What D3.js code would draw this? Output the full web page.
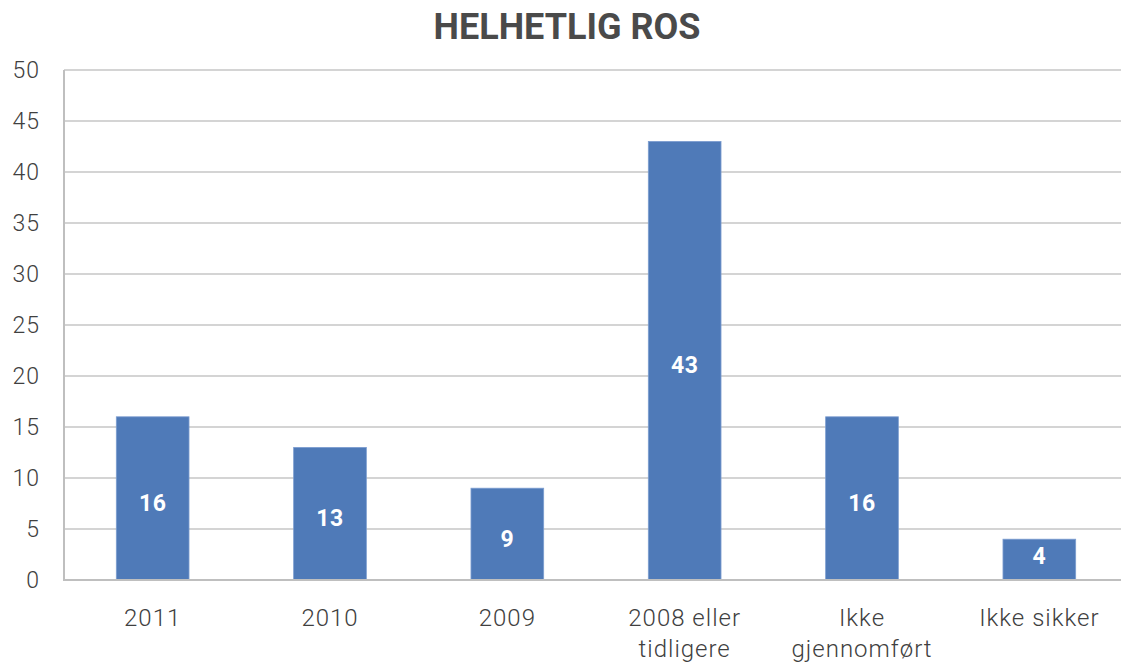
<!DOCTYPE html>
<html>
<head>
<meta charset="utf-8">
<script src="https://cdn.jsdelivr.net/npm/d3@7/dist/d3.min.js"></script>
<style>
  html, body { margin: 0; padding: 0; background: #ffffff; }
  svg { display: block; }
</style>
</head>
<body>
<svg id="chart" width="1121" height="664"></svg>
<script>
const title = "HELHETLIG ROS";
const categories = ["2011", "2010", "2009", "2008 eller tidligere", "Ikke gjennomført", "Ikke sikker"];
const categoryLines = [["2011"], ["2010"], ["2009"], ["2008 eller", "tidligere"], ["Ikke", "gjennomført"], ["Ikke sikker"]];
const values = [16, 13, 9, 43, 16, 4];
const yTicks = [0, 5, 10, 15, 20, 25, 30, 35, 40, 45, 50];

const svg = d3.select("#chart");
const W = 1121, H = 664;
const x0 = 64, x1 = 1128;

const x = d3.scaleBand().domain(categories).range([x0, x1]).paddingInner(0.59).paddingOuter(0.295);
const y = d3.scaleLinear().domain([0, 50]).range([580, 70]);

const font = "'Roboto', 'DejaVu Sans', sans-serif";

// gridlines
svg.append("g")
  .selectAll("line")
  .data(yTicks.filter(d => d > 0))
  .join("line")
  .attr("x1", x0).attr("x2", W)
  .attr("y1", d => y(d)).attr("y2", d => y(d))
  .attr("stroke", "#d4d4d4").attr("stroke-width", 2);

// bars
svg.append("g")
  .selectAll("rect")
  .data(values)
  .join("rect")
  .attr("x", (d, i) => x(categories[i]))
  .attr("y", d => y(d))
  .attr("width", x.bandwidth())
  .attr("height", d => y(0) - y(d))
  .attr("fill", "#4f7ab8")
  .attr("stroke", "#7c9dd0")
  .attr("stroke-width", 0.8);

// data labels (centred in bar, kept clear of the baseline for short bars)
svg.append("g")
  .selectAll("text")
  .data(values)
  .join("text")
  .attr("x", (d, i) => x(categories[i]) + x.bandwidth() / 2)
  .attr("y", d => Math.min((y(d) + y(0)) / 2 + 4, y(0) - 25) + 8.5)
  .attr("text-anchor", "middle")
  .attr("font-family", font)
  .attr("font-weight", "bold")
  .attr("font-size", 23)
  .attr("letter-spacing", 0.5)
  .attr("fill", "#ffffff")
  .text(d => d);

// axes lines
svg.append("line").attr("x1", x0).attr("x2", x0).attr("y1", y(50)).attr("y2", y(0) + 1)
  .attr("stroke", "#bfbfbf").attr("stroke-width", 2);
svg.append("line").attr("x1", x0 - 1).attr("x2", W).attr("y1", y(0)).attr("y2", y(0))
  .attr("stroke", "#bfbfbf").attr("stroke-width", 2);

// y axis labels
const yAxis = d3.axisLeft(y).tickValues(yTicks).tickSize(0).tickPadding(24);
const gy = svg.append("g").attr("transform", `translate(${x0},0)`).call(yAxis);
gy.select(".domain").remove();
gy.selectAll("text")
  .attr("font-family", font)
  .attr("font-weight", 300)
  .attr("font-size", 23)
  .attr("letter-spacing", 1)
  .attr("fill", "#404040");

// x axis labels
const xAxis = d3.axisBottom(x).tickSize(0).tickFormat("");
const gx = svg.append("g").attr("transform", `translate(0,${y(0)})`).call(xAxis);
gx.select(".domain").remove();
gx.selectAll(".tick").each(function(d, i) {
  const t = d3.select(this).append("text")
    .attr("text-anchor", "middle")
    .attr("font-family", font)
    .attr("font-weight", 300)
    .attr("font-size", 24)
    .attr("letter-spacing", 1)
    .attr("fill", "#404040");
  categoryLines[i].forEach((ln, k) => {
    t.append("tspan").attr("x", 0).attr("y", 46 + k * 31).text(ln);
  });
});

// title
svg.append("text")
  .attr("x", 567).attr("y", 39)
  .attr("text-anchor", "middle")
  .attr("font-family", font)
  .attr("font-weight", "bold")
  .attr("font-size", 36)
  .attr("fill", "#4a4a4a")
  .text(title);
</script>
</body>
</html>
